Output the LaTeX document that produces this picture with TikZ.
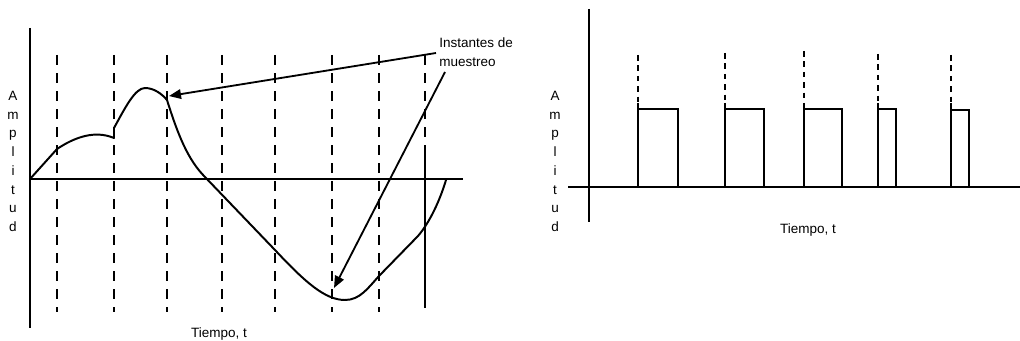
\documentclass[tikz,border=0pt]{standalone}
\usepackage{fontspec}
\setmainfont{Liberation Sans}
\usetikzlibrary{arrows.meta}
\tikzset{
  axisline/.style={line width=1.6pt},
  sampledash/.style={line width=1.7pt, dash pattern=on 0.25cm off 0.2cm},
  pulsedash/.style={line width=1.7pt, dash pattern=on 0.14cm off 0.12cm},
  signal/.style={line width=1.4pt, line join=round},
  pointer/.style={line width=1.3pt, -{Triangle[length=0.3cm, width=0.24cm]}},
  lbl/.style={font=\fontsize{9.6}{13.5}\selectfont, inner sep=0pt},
}
\begin{document}
\begin{tikzpicture}[x=0.025cm, y=-0.025cm]
    \useasboundingbox (0,0) rectangle (1020,341);

    % Left: continuous signal with sampling instants
    \draw[axisline] (30,28) -- (30,328);
    \draw[axisline] (30,179) -- (463,179);
    \foreach \c [count=\i] in {A,m,p,l,i,t,u,d} {
        \node[lbl, anchor=base] (amp\i) at (13,{100.5+(\i-1)*18.7}) {\c};
    }
    \node[lbl] (tiempoA) at (219,334) {Tiempo, t};

    \foreach \x in {57,114,167,222,275,332,379} {
        \draw[sampledash] (\x,55) -- (\x,312);
    }
    \draw[sampledash] (425,55) -- (425,152);
    \draw[axisline] (425,152) -- (425,308);

    \draw[signal] (30,179) -- (57,149) .. controls (75,137) and (95,130) .. (114,138)
        -- (114,128) .. controls (125,108) and (135,88) .. (145,88)
        .. controls (154,88) and (162,94) .. (167,100)
        .. controls (178,135) and (188,160) .. (205,177) -- (275,250)
        .. controls (305,282) and (325,300) .. (345,300)
        .. controls (360,300) and (368,288) .. (379,276)
        -- (418,236) .. controls (430,222) and (440,200) .. (446,180);

    % Label and arrows
    \node[lbl, anchor=west, align=left] (instantes) at (439,52) {Instantes de\\muestreo};
    \coordinate (fromA) at (436,53);
    \coordinate (fromB) at (445,72);
    \coordinate (toA) at (169,96);
    \coordinate (toB) at (334,288);
    \draw[pointer] (fromA) -- (toA);
    \draw[pointer] (fromB) -- (toB);

    % Right: sampled pulses
    \draw[axisline] (589,9) -- (589,222);
    \draw[axisline] (568,187) -- (1020,187);
    \foreach \c [count=\i] in {A,m,p,l,i,t,u,d} {
        \node[lbl, anchor=base] (ampB\i) at (555,{100.5+(\i-1)*18.7}) {\c};
    }
    \node[lbl] (tiempoB) at (808,230) {Tiempo, t};

    \foreach \a/\b/\h/\s in {638/678/109/55, 725/764/109/53, 804/842/109/51, 878/896/109/54, 951/969/110/55} {
        \draw[pulsedash] (\a,\s) -- (\a,103);
        \draw[axisline] (\a,103) -- (\a,187);
        \draw[axisline] (\a,\h) -- (\b,\h) -- (\b,187);
    }
\end{tikzpicture}
\end{document}
